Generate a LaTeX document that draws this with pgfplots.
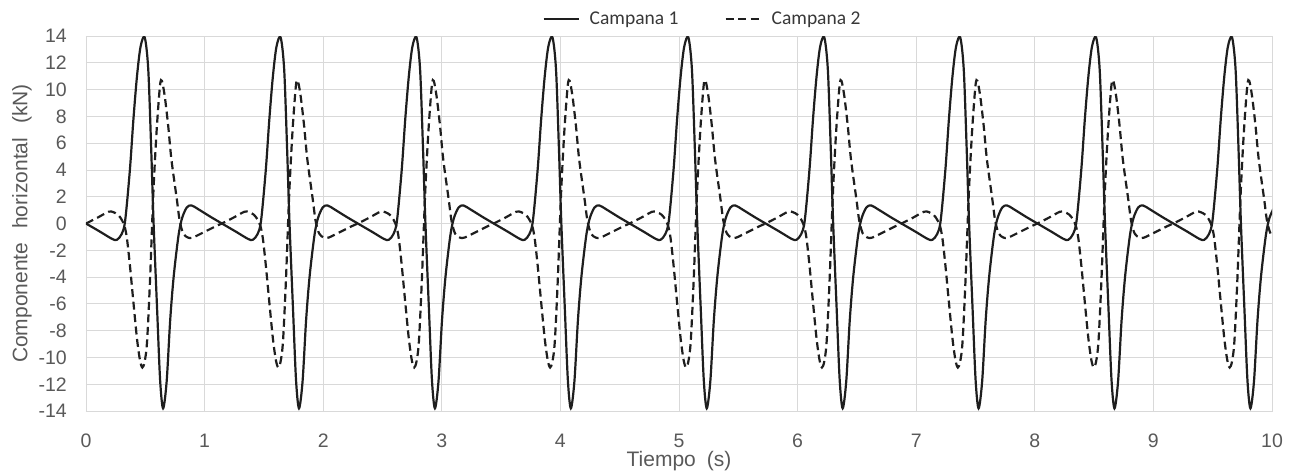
\documentclass[border=0pt]{standalone}
\usepackage{fontspec}
\setmainfont{Liberation Sans}
\newfontfamily\legfont{Carlito}
\usepackage{pgfplots}
\pgfplotsset{compat=1.18}
\definecolor{gridgray}{RGB}{217,217,217}
\definecolor{labelgray}{RGB}{89,89,89}
\definecolor{curve}{RGB}{30,30,30}

\begin{document}
\begin{tikzpicture}
\useasboundingbox (-86pt,-64pt) rectangle (1207pt,411pt);
\begin{axis}[
    at={(0pt,0pt)}, anchor=south west,
    scale only axis, width=1186pt, height=375pt,
    xmin=0, xmax=10, ymin=-14, ymax=14,
    xtick={0,1,...,10}, ytick={-14,-12,...,14},
    grid=major,
    major grid style={gridgray, line width=0.8pt},
    axis line style={gridgray, line width=0.8pt},
    tick style={draw=none},
    /pgf/number format/assume math mode=true,
    tick label style={font=\fontsize{19.5}{22}\selectfont, text=labelgray, inner sep=0pt},
    xticklabel style={anchor=center, yshift=-30pt},
    yticklabel style={anchor=east, xshift=-19pt},
    xlabel={Tiempo\hspace{11pt}(s)},
    ylabel={Componente\hspace{14pt}horizontal\hspace{14pt}(kN)},
    every axis x label/.style={at={(axis description cs:0.5,0)}, yshift=-50pt, anchor=center, inner sep=0pt},
    every axis y label/.style={at={(axis description cs:-0.054,0.5)}, rotate=90, anchor=center, inner sep=0pt},
    label style={font=\fontsize{21}{24}\selectfont, text=labelgray},
    legend columns=2,
    legend style={at={(0.5198,1)}, anchor=south, yshift=6pt, draw=none, fill=none,
        font=\legfont\fontsize{19.5}{22}\selectfont, text=black!78,
        /tikz/every even column/.append style={column sep=44pt}},
    legend image code/.code={\draw[#1] (0pt,0pt) -- (35pt,0pt); \path (43pt,0pt);},
]
% Campana 1
\addplot[curve, line width=2.2pt, smooth] coordinates {
(0.000,0.00) (0.120,-0.62) (0.220,-1.15) (0.260,-1.22) (0.300,-0.80) (0.330,0.20) (0.370,4.00) (0.400,7.80) (0.430,11.00) (0.460,13.20) (0.495,13.90) (0.525,11.50) (0.550,5.50) (0.570,0.00) (0.600,-6.50) (0.625,-11.70) (0.650,-13.80) (0.680,-11.80) (0.710,-7.20) (0.740,-3.90) (0.780,-0.90) (0.810,0.40) (0.850,1.20) (0.890,1.35) (0.950,1.05) (1.050,0.50)
(1.146,0.00) (1.266,-0.62) (1.366,-1.15) (1.406,-1.22) (1.446,-0.80) (1.476,0.20) (1.516,4.00) (1.546,7.80) (1.576,11.00) (1.606,13.20) (1.641,13.90) (1.671,11.50) (1.696,5.50) (1.716,0.00) (1.746,-6.50) (1.771,-11.70) (1.796,-13.80) (1.826,-11.80) (1.856,-7.20) (1.886,-3.90) (1.926,-0.90) (1.956,0.40) (1.996,1.20) (2.036,1.35) (2.096,1.05) (2.196,0.50)
(2.292,0.00) (2.412,-0.62) (2.512,-1.15) (2.552,-1.22) (2.592,-0.80) (2.622,0.20) (2.662,4.00) (2.692,7.80) (2.722,11.00) (2.752,13.20) (2.787,13.90) (2.817,11.50) (2.842,5.50) (2.862,0.00) (2.892,-6.50) (2.917,-11.70) (2.942,-13.80) (2.972,-11.80) (3.002,-7.20) (3.032,-3.90) (3.072,-0.90) (3.102,0.40) (3.142,1.20) (3.182,1.35) (3.242,1.05) (3.342,0.50)
(3.438,0.00) (3.558,-0.62) (3.658,-1.15) (3.698,-1.22) (3.738,-0.80) (3.768,0.20) (3.808,4.00) (3.838,7.80) (3.868,11.00) (3.898,13.20) (3.933,13.90) (3.963,11.50) (3.988,5.50) (4.008,0.00) (4.038,-6.50) (4.063,-11.70) (4.088,-13.80) (4.118,-11.80) (4.148,-7.20) (4.178,-3.90) (4.218,-0.90) (4.248,0.40) (4.288,1.20) (4.328,1.35) (4.388,1.05) (4.488,0.50)
(4.584,0.00) (4.704,-0.62) (4.804,-1.15) (4.844,-1.22) (4.884,-0.80) (4.914,0.20) (4.954,4.00) (4.984,7.80) (5.014,11.00) (5.044,13.20) (5.079,13.90) (5.109,11.50) (5.134,5.50) (5.154,0.00) (5.184,-6.50) (5.209,-11.70) (5.234,-13.80) (5.264,-11.80) (5.294,-7.20) (5.324,-3.90) (5.364,-0.90) (5.394,0.40) (5.434,1.20) (5.474,1.35) (5.534,1.05) (5.634,0.50)
(5.730,0.00) (5.850,-0.62) (5.950,-1.15) (5.990,-1.22) (6.030,-0.80) (6.060,0.20) (6.100,4.00) (6.130,7.80) (6.160,11.00) (6.190,13.20) (6.225,13.90) (6.255,11.50) (6.280,5.50) (6.300,0.00) (6.330,-6.50) (6.355,-11.70) (6.380,-13.80) (6.410,-11.80) (6.440,-7.20) (6.470,-3.90) (6.510,-0.90) (6.540,0.40) (6.580,1.20) (6.620,1.35) (6.680,1.05) (6.780,0.50)
(6.876,0.00) (6.996,-0.62) (7.096,-1.15) (7.136,-1.22) (7.176,-0.80) (7.206,0.20) (7.246,4.00) (7.276,7.80) (7.306,11.00) (7.336,13.20) (7.371,13.90) (7.401,11.50) (7.426,5.50) (7.446,0.00) (7.476,-6.50) (7.501,-11.70) (7.526,-13.80) (7.556,-11.80) (7.586,-7.20) (7.616,-3.90) (7.656,-0.90) (7.686,0.40) (7.726,1.20) (7.766,1.35) (7.826,1.05) (7.926,0.50)
(8.022,0.00) (8.142,-0.62) (8.242,-1.15) (8.282,-1.22) (8.322,-0.80) (8.352,0.20) (8.392,4.00) (8.422,7.80) (8.452,11.00) (8.482,13.20) (8.517,13.90) (8.547,11.50) (8.572,5.50) (8.592,0.00) (8.622,-6.50) (8.647,-11.70) (8.672,-13.80) (8.702,-11.80) (8.732,-7.20) (8.762,-3.90) (8.802,-0.90) (8.832,0.40) (8.872,1.20) (8.912,1.35) (8.972,1.05) (9.072,0.50)
(9.168,0.00) (9.288,-0.62) (9.388,-1.15) (9.428,-1.22) (9.468,-0.80) (9.498,0.20) (9.538,4.00) (9.568,7.80) (9.598,11.00) (9.628,13.20) (9.663,13.90) (9.693,11.50) (9.718,5.50) (9.738,0.00) (9.768,-6.50) (9.793,-11.70) (9.818,-13.80) (9.848,-11.80) (9.878,-7.20) (9.908,-3.90) (9.948,-0.90) (9.978,0.40) (10.018,1.20)
};
\addlegendentry{Campana 1}
% Campana 2
\addplot[curve, line width=2.2pt, smooth, dash pattern=on 8pt off 4.5pt] coordinates {
(0.000,0.00) (0.100,0.45) (0.190,0.88) (0.230,0.85) (0.270,0.65) (0.300,0.30) (0.325,-0.20) (0.345,-1.10) (0.370,-3.10) (0.400,-5.90) (0.430,-8.60) (0.455,-10.20) (0.475,-10.75) (0.495,-10.30) (0.515,-8.80) (0.540,-4.20) (0.568,2.30) (0.596,7.00) (0.624,10.30) (0.640,10.65) (0.664,9.50) (0.693,7.30) (0.720,4.80) (0.766,1.80) (0.790,0.20) (0.820,-0.75) (0.860,-1.05) (0.900,-1.05) (1.000,-0.62) (1.100,-0.18)
(1.146,0.00) (1.246,0.45) (1.336,0.88) (1.376,0.85) (1.416,0.65) (1.446,0.30) (1.471,-0.20) (1.491,-1.10) (1.516,-3.10) (1.546,-5.90) (1.576,-8.60) (1.601,-10.20) (1.621,-10.75) (1.641,-10.30) (1.661,-8.80) (1.686,-4.20) (1.714,2.30) (1.742,7.00) (1.770,10.30) (1.786,10.65) (1.810,9.50) (1.839,7.30) (1.866,4.80) (1.912,1.80) (1.936,0.20) (1.966,-0.75) (2.006,-1.05) (2.046,-1.05) (2.146,-0.62) (2.246,-0.18)
(2.292,0.00) (2.392,0.45) (2.482,0.88) (2.522,0.85) (2.562,0.65) (2.592,0.30) (2.617,-0.20) (2.637,-1.10) (2.662,-3.10) (2.692,-5.90) (2.722,-8.60) (2.747,-10.20) (2.767,-10.75) (2.787,-10.30) (2.807,-8.80) (2.832,-4.20) (2.860,2.30) (2.888,7.00) (2.916,10.30) (2.932,10.65) (2.956,9.50) (2.985,7.30) (3.012,4.80) (3.058,1.80) (3.082,0.20) (3.112,-0.75) (3.152,-1.05) (3.192,-1.05) (3.292,-0.62) (3.392,-0.18)
(3.438,0.00) (3.538,0.45) (3.628,0.88) (3.668,0.85) (3.708,0.65) (3.738,0.30) (3.763,-0.20) (3.783,-1.10) (3.808,-3.10) (3.838,-5.90) (3.868,-8.60) (3.893,-10.20) (3.913,-10.75) (3.933,-10.30) (3.953,-8.80) (3.978,-4.20) (4.006,2.30) (4.034,7.00) (4.062,10.30) (4.078,10.65) (4.102,9.50) (4.131,7.30) (4.158,4.80) (4.204,1.80) (4.228,0.20) (4.258,-0.75) (4.298,-1.05) (4.338,-1.05) (4.438,-0.62) (4.538,-0.18)
(4.584,0.00) (4.684,0.45) (4.774,0.88) (4.814,0.85) (4.854,0.65) (4.884,0.30) (4.909,-0.20) (4.929,-1.10) (4.954,-3.10) (4.984,-5.90) (5.014,-8.60) (5.039,-10.20) (5.059,-10.75) (5.079,-10.30) (5.099,-8.80) (5.124,-4.20) (5.152,2.30) (5.180,7.00) (5.208,10.30) (5.224,10.65) (5.248,9.50) (5.277,7.30) (5.304,4.80) (5.350,1.80) (5.374,0.20) (5.404,-0.75) (5.444,-1.05) (5.484,-1.05) (5.584,-0.62) (5.684,-0.18)
(5.730,0.00) (5.830,0.45) (5.920,0.88) (5.960,0.85) (6.000,0.65) (6.030,0.30) (6.055,-0.20) (6.075,-1.10) (6.100,-3.10) (6.130,-5.90) (6.160,-8.60) (6.185,-10.20) (6.205,-10.75) (6.225,-10.30) (6.245,-8.80) (6.270,-4.20) (6.298,2.30) (6.326,7.00) (6.354,10.30) (6.370,10.65) (6.394,9.50) (6.423,7.30) (6.450,4.80) (6.496,1.80) (6.520,0.20) (6.550,-0.75) (6.590,-1.05) (6.630,-1.05) (6.730,-0.62) (6.830,-0.18)
(6.876,0.00) (6.976,0.45) (7.066,0.88) (7.106,0.85) (7.146,0.65) (7.176,0.30) (7.201,-0.20) (7.221,-1.10) (7.246,-3.10) (7.276,-5.90) (7.306,-8.60) (7.331,-10.20) (7.351,-10.75) (7.371,-10.30) (7.391,-8.80) (7.416,-4.20) (7.444,2.30) (7.472,7.00) (7.500,10.30) (7.516,10.65) (7.540,9.50) (7.569,7.30) (7.596,4.80) (7.642,1.80) (7.666,0.20) (7.696,-0.75) (7.736,-1.05) (7.776,-1.05) (7.876,-0.62) (7.976,-0.18)
(8.022,0.00) (8.122,0.45) (8.212,0.88) (8.252,0.85) (8.292,0.65) (8.322,0.30) (8.347,-0.20) (8.367,-1.10) (8.392,-3.10) (8.422,-5.90) (8.452,-8.60) (8.477,-10.20) (8.497,-10.75) (8.517,-10.30) (8.537,-8.80) (8.562,-4.20) (8.590,2.30) (8.618,7.00) (8.646,10.30) (8.662,10.65) (8.686,9.50) (8.715,7.30) (8.742,4.80) (8.788,1.80) (8.812,0.20) (8.842,-0.75) (8.882,-1.05) (8.922,-1.05) (9.022,-0.62) (9.122,-0.18)
(9.168,0.00) (9.268,0.45) (9.358,0.88) (9.398,0.85) (9.438,0.65) (9.468,0.30) (9.493,-0.20) (9.513,-1.10) (9.538,-3.10) (9.568,-5.90) (9.598,-8.60) (9.623,-10.20) (9.643,-10.75) (9.663,-10.30) (9.683,-8.80) (9.708,-4.20) (9.736,2.30) (9.764,7.00) (9.792,10.30) (9.808,10.65) (9.832,9.50) (9.861,7.30) (9.888,4.80) (9.934,1.80) (9.958,0.20) (9.988,-0.75) (10.028,-1.05)
};
\addlegendentry{Campana 2}
\end{axis}
\end{tikzpicture}
\end{document}
